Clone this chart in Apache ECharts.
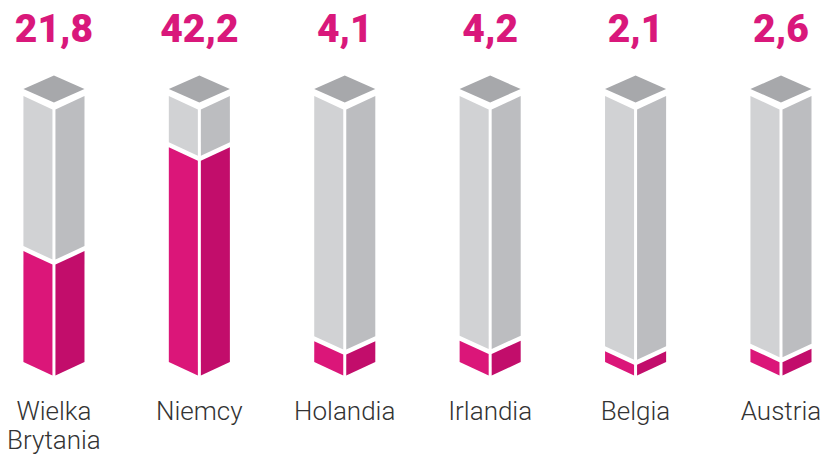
<!DOCTYPE html>
<html>
<head>
<meta charset="utf-8">
<script src="https://cdn.jsdelivr.net/npm/echarts@6/dist/echarts.min.js"></script>
<style>
  html, body { margin: 0; padding: 0; background: #fff; }
  #chart { width: 823px; height: 456px; }
</style>
</head>
<body>
<div id="chart"></div>
<script>
// data
var categories = ['Wielka\nBrytania', 'Niemcy', 'Holandia', 'Irlandia', 'Belgia', 'Austria'];
var values = [21.8, 42.2, 4.1, 4.2, 2.1, 2.6];
var valueLabels = ['21,8', '42,2', '4,1', '4,2', '2,1', '2,6'];
// value at the top of the grey column
var fullScale = 52.3;

var pinkL = '#db1679', pinkR = '#c20d6b';
var greyL = '#d1d2d4', greyR = '#bcbdc0', greyTop = '#a7a8ab';

function poly(points, color) {
  return { type: 'polygon', shape: { points: points }, style: { fill: color } };
}

function renderColumn(params, api) {
  var i = api.value(0);
  var v = api.value(1);
  var base = api.coord([i, 0]);
  var top = api.coord([i, fullScale]);
  var lvl = api.coord([i, v]);
  var cx = base[0];
  var w = api.size([1, 0])[0] * 0.21;
  var d = w * 0.44;   // slope drop of the faces
  var g = 1.5;        // half of the white centre line
  var gap = 5;        // white gap between grey and pink
  var yB = base[1], yT = top[1], yP = lvl[1];
  var yS = yT - 7;    // side corners of the top diamond

  var children = [
    // grey upper part
    poly([[cx - w, yT], [cx - g, yT + d], [cx - g, yP - gap + d], [cx - w, yP - gap]], greyL),
    poly([[cx + g, yT + d], [cx + w, yT], [cx + w, yP - gap], [cx + g, yP - gap + d]], greyR),
    // top diamond
    poly([[cx, yS - d], [cx + w, yS], [cx, yS + d], [cx - w, yS]], greyTop),
    // pink value part
    poly([[cx - w, yP], [cx - g, yP + d], [cx - g, yB + d], [cx - w, yB]], pinkL),
    poly([[cx + g, yP + d], [cx + w, yP], [cx + w, yB], [cx + g, yB + d]], pinkR),
    {
      type: 'text',
      style: {
        text: valueLabels[i], x: cx, y: yT - 67,
        align: 'center', verticalAlign: 'middle',
        fontFamily: 'Roboto', fontWeight: 900, fontSize: 39,
        fill: '#d9187b'
      }
    },
    {
      type: 'text',
      style: {
        text: categories[i], x: cx, y: yB + 34,
        align: 'center', verticalAlign: 'top',
        fontFamily: 'Roboto', fontWeight: 300, fontSize: 26, lineHeight: 29,
        fill: '#333333'
      }
    }
  ];
  return { type: 'group', children: children };
}

var chart = echarts.init(document.getElementById('chart'), null, { renderer: 'svg' });
var option = {
  animation: false,
  grid: { left: 0, right: 0, top: 96, bottom: 94 },
  xAxis: { type: 'value', min: -0.371, max: 5.289, show: false },
  yAxis: { type: 'value', min: 0, max: fullScale, show: false },
  series: [{
    type: 'custom',
    renderItem: renderColumn,
    data: values.map(function (v, i) { return [i, v]; }),
    clip: false
  }]
};
chart.setOption(option);
</script>
</body>
</html>
